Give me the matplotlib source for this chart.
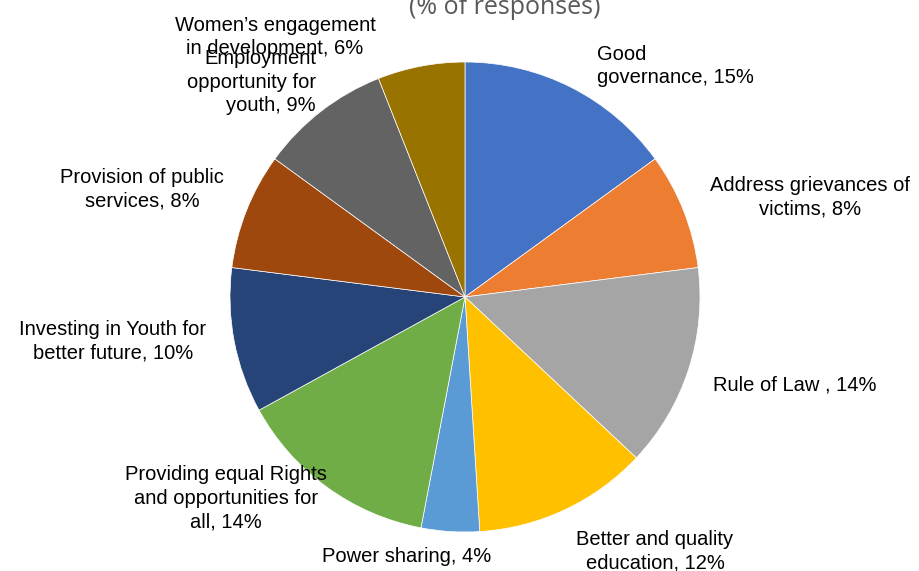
import matplotlib.pyplot as plt

# данные
labels = ['Good\ngovernance, 15%', 'Address grievances of\nvictims, 8%', 'Rule of Law , 14%',
          'Better and quality\neducation, 12%', 'Power sharing, 4%',
          'Providing equal Rights\nand opportunities for\nall, 14%',
          'Investing in Youth for\nbetter future, 10%', 'Provision of public\nservices, 8%',
          'Employment\nopportunity for\nyouth, 9%', 'Women\u2019s engagement\nin development, 6%']
values = [15, 8, 14, 12, 4, 14, 10, 8, 9, 6]
colors = ['#4472C4', '#ED7D31', '#A5A5A5', '#FFC000', '#5B9BD5',
          '#70AD47', '#264478', '#9E480E', '#636363', '#997300']

# позиции подписей в пикселях картинки (от верхнего левого угла)
lab_xy = [(597, 66), (810, 197), (795, 385), (655, 551), (407, 556),
          (226, 498), (113, 341), (142, 189), (316, 82), (275, 37)]
lab_ha = ['left', 'center', 'center', 'center', 'center',
          'center', 'center', 'center', 'right', 'center']

H = 571
fig = plt.figure(figsize=(9.19, 5.71), dpi=100)
ax = fig.add_axes([0, 0, 1, 1])

ax.pie(values, colors=colors, startangle=90, counterclock=False,
       center=(465, H - 297), radius=235, frame=True,
       wedgeprops=dict(edgecolor='white', linewidth=0.5))
ax.set_xlim(0, 919)
ax.set_ylim(0, H)
ax.set_aspect('auto')
ax.axis('off')

for t, (x, y), ha in zip(labels, lab_xy, lab_ha):
    ax.text(x, H - y, t, ha=ha, va='center', multialignment=ha, fontsize=14.5,
            family='Liberation Sans', color='black', linespacing=1.3)

ax.text(505, H - 14, '(% of responses)', ha='center', va='baseline', fontsize=18,
        family='Open Sans', color='#595959')

plt.savefig('out.png', dpi=100)
